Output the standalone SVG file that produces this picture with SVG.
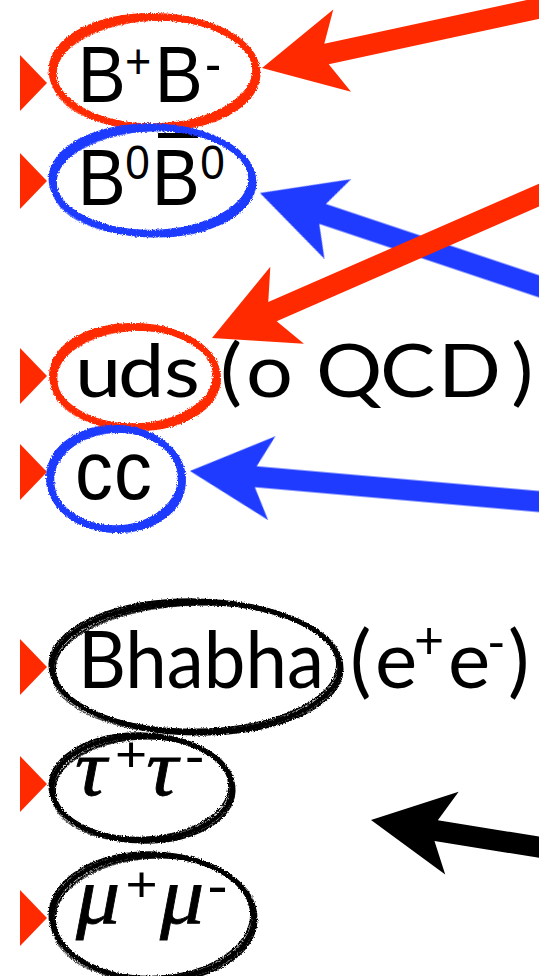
<svg xmlns="http://www.w3.org/2000/svg" width="539" height="976" viewBox="0 0 539 976">
<style>
.sans{font-family:"Liberation Sans",Arial,sans-serif;fill:#000}
.gill{font-family:Lato,"Open Sans",sans-serif;fill:#000}
.greek{font-family:"Liberation Serif","Times New Roman",serif;font-style:italic;fill:#000;stroke:#000;stroke-width:0.8}
.supf{font-family:"Liberation Sans",Arial,sans-serif;font-style:normal;stroke:none}
.ring{fill:none}
.red{stroke:#FF2A00}
.blue{stroke:#1F3BFF}
.black{stroke:#000}
.bul{fill:#FF2A00}
.ar-red{fill:#FF2A00}
.ar-blue{fill:#1F3BFF}
.ar-black{fill:#000}
</style>
<defs>
<path id="bullet" d="M0,-28 L27,0 L0,28 Z"/>
<path id="arrow" d="M0,0 L82,-42 L66,-10.5 L560,-10.5 L560,10.5 L66,10.5 L82,42 Z"/>
<filter id="rough" x="-10%" y="-15%" width="120%" height="130%">
<feTurbulence type="fractalNoise" baseFrequency="0.8" numOctaves="2" seed="4" result="n"/>
<feDisplacementMap in="SourceGraphic" in2="n" scale="3.5" xChannelSelector="R" yChannelSelector="G"/>
</filter>
</defs>

<g id="node-BpBm">
<use href="#bullet" class="bul" x="20" y="83"/>
<text class="sans" transform="scale(0.9,1)" font-size="80"><tspan x="86.3" y="102">B</tspan><tspan x="138.8" y="78" font-size="50">+</tspan><tspan x="171.9" y="102">B</tspan><tspan x="227.7" y="82" font-size="54">-</tspan></text>
</g>

<g id="node-B0B0">
<use href="#bullet" class="bul" x="20" y="181"/>
<text class="sans" transform="scale(0.9,1)" font-size="80"><tspan x="86.3" y="205">B</tspan><tspan x="139.2" y="179" font-size="49">0</tspan><tspan x="168.6" y="205">B</tspan><tspan x="222.6" y="179" font-size="49">0</tspan></text>
<rect x="158" y="133" width="40" height="5" fill="#000"/>
</g>

<g id="node-uds">
<use href="#bullet" class="bul" x="20" y="376"/>
<text class="gill" font-size="74" transform="scale(1.12,1)" x="67 105.4 146.4 174.1 196.4 219.6 258.9 282.1 339.3 391.1 456.5" y="397">uds (o QCD)</text>
</g>

<g id="node-cc">
<use href="#bullet" class="bul" x="20" y="472"/>
<text class="sans" transform="scale(0.9,1)" font-size="84" x="83.4 126.8" y="499">cc</text>
</g>

<g id="node-bhabha">
<use href="#bullet" class="bul" x="20" y="667"/>
<text class="gill" font-size="80" x="78" y="688" textLength="246" lengthAdjust="spacingAndGlyphs">Bhabha</text>
<text class="gill" font-size="80"><tspan x="350" y="688">(</tspan><tspan x="375" y="688">e</tspan><tspan x="414" y="659" font-size="52">+</tspan><tspan x="448" y="688">e</tspan><tspan x="487" y="660" font-size="50">-</tspan><tspan x="508" y="688">)</tspan></text>
</g>

<g id="node-tau">
<use href="#bullet" class="bul" x="20" y="784"/>
<text class="greek" font-size="80" transform="scale(1.1,1)"><tspan x="68.2" y="795">τ</tspan><tspan class="supf" x="104.5" y="770.6" font-size="50">+</tspan><tspan x="133" y="795">τ</tspan><tspan class="supf" x="168" y="774" font-size="54">-</tspan></text>
</g>

<g id="node-mu">
<use href="#bullet" class="bul" x="20" y="918"/>
<text class="greek" font-size="80" transform="scale(1.1,1)"><tspan x="69" y="923">μ</tspan><tspan class="supf" x="114" y="900.6" font-size="50">+</tspan><tspan x="145.5" y="923">μ</tspan><tspan class="supf" x="188.5" y="905.2" font-size="56">-</tspan></text>
</g>

<g id="rings" filter="url(#rough)">
<g class="ring red" transform="translate(154.5,72)">
<ellipse rx="102" ry="55" stroke-width="6.5"/>
<ellipse rx="104.5" ry="57.5" transform="rotate(1.5)" stroke-width="3"/>
<ellipse rx="99" ry="52.5" transform="rotate(-1.5)" stroke-width="2.5"/>
<ellipse rx="103" ry="54" transform="translate(1,2) rotate(-3)" stroke-width="2" opacity="0.7"/>
</g>
<g class="ring blue" transform="translate(152.5,180.5)">
<ellipse rx="100" ry="53" stroke-width="6.5"/>
<ellipse rx="102.5" ry="55.5" transform="rotate(1.5)" stroke-width="3"/>
<ellipse rx="97" ry="50.5" transform="rotate(-1.5)" stroke-width="2.5"/>
<ellipse rx="101" ry="52" transform="translate(1,2) rotate(-3)" stroke-width="2" opacity="0.7"/>
</g>
<g class="ring red" transform="translate(135,377)">
<ellipse rx="82" ry="50" stroke-width="6.5"/>
<ellipse rx="84.5" ry="52.5" transform="rotate(2)" stroke-width="3"/>
<ellipse rx="79" ry="47.5" transform="rotate(-2)" stroke-width="2.5"/>
<ellipse rx="83" ry="49" transform="translate(1,2) rotate(-4)" stroke-width="2" opacity="0.7"/>
</g>
<g class="ring blue" transform="translate(116,479)">
<ellipse rx="66" ry="50" stroke-width="6.5"/>
<ellipse rx="68.5" ry="52.5" transform="rotate(3)" stroke-width="3"/>
<ellipse rx="63" ry="47.5" transform="rotate(-3)" stroke-width="2.5"/>
<ellipse rx="67" ry="49" transform="translate(1,2) rotate(-5)" stroke-width="2" opacity="0.7"/>
</g>
<g class="ring black" transform="translate(196,667)">
<ellipse rx="144" ry="65" stroke-width="5"/>
<ellipse rx="146.5" ry="67.5" transform="rotate(1)" stroke-width="2.2"/>
<ellipse rx="141" ry="62.5" transform="rotate(-1)" stroke-width="1.8"/>
<ellipse rx="145" ry="64" transform="translate(1,2) rotate(-2)" stroke-width="1.5" opacity="0.7"/>
</g>
<g class="ring black" transform="translate(142,788)">
<ellipse rx="90" ry="52" stroke-width="5"/>
<ellipse rx="92.5" ry="54.5" transform="rotate(2)" stroke-width="2.2"/>
<ellipse rx="87" ry="49.5" transform="rotate(-2)" stroke-width="1.8"/>
<ellipse rx="91" ry="51" transform="translate(1,2) rotate(-4)" stroke-width="1.5" opacity="0.7"/>
</g>
<g class="ring black" transform="translate(153,917)">
<ellipse rx="101" ry="62" stroke-width="5"/>
<ellipse rx="103.5" ry="64.5" transform="rotate(2)" stroke-width="2.2"/>
<ellipse rx="98" ry="59.5" transform="rotate(-2)" stroke-width="1.8"/>
<ellipse rx="102" ry="61" transform="translate(1,2) rotate(-4)" stroke-width="1.5" opacity="0.7"/>
</g>
</g>

<g id="connectors">
<use href="#arrow" class="ar-blue" transform="translate(260,193) rotate(18.5)"/>
<use href="#arrow" class="ar-blue" transform="translate(190,471) rotate(5)"/>
<use href="#arrow" class="ar-red" transform="translate(262,68) rotate(-12.2)"/>
<use href="#arrow" class="ar-red" transform="translate(212,338) rotate(-23.6)"/>
<use href="#arrow" class="ar-black" transform="translate(371,820) rotate(9.2)"/>
</g>
</svg>
